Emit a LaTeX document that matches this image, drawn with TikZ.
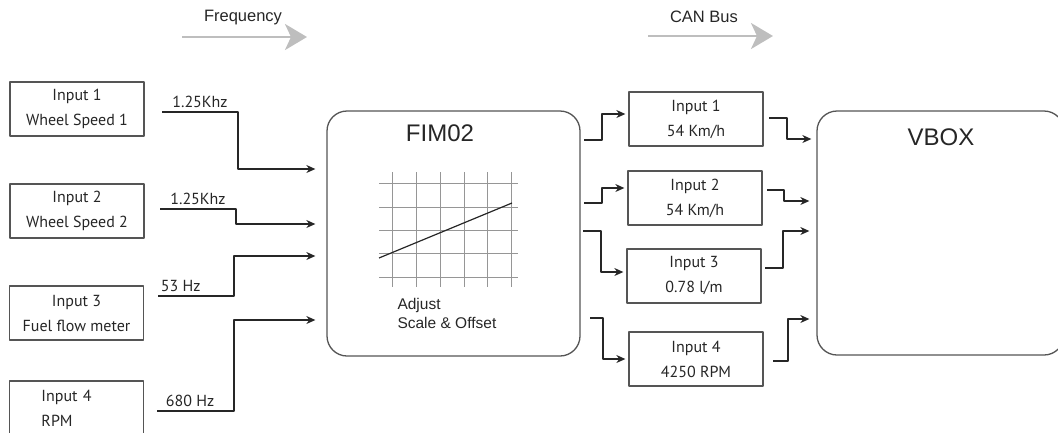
\documentclass[tikz,border=0pt]{standalone}
\usepackage{fontspec}
\setmainfont{Liberation Sans}
\newfontfamily\boxfont{PT Sans}
\usetikzlibrary{arrows.meta}
\definecolor{boxgray}{RGB}{85,85,85}
\definecolor{busgray}{RGB}{190,190,190}
\definecolor{gridgray}{RGB}{150,150,150}
\begin{document}
\begin{tikzpicture}[x=1pt,y=-1pt,line join=round,>={Stealth[length=9pt,width=8pt]},
	inbox/.style={draw=boxgray,line width=1.3pt,minimum width=134pt,minimum height=54pt,inner sep=0pt,align=center,font=\boxfont\fontsize{16}{25}\selectfont},
	bigbox/.style={draw=boxgray,line width=1.3pt,rounded corners=20pt,inner sep=0pt},
	sig/.style={->,line width=1.2pt,color=black!85},
	lbl/.style={font=\boxfont\fontsize{16}{18}\selectfont,inner sep=4pt},
	bus/.style={line width=2.6pt,color=busgray,-{Stealth[length=22pt,width=26pt,inset=6pt]}}]
	\useasboundingbox (0,0) rectangle (1058,432);
	\tikzset{every node/.style={text=black!85}}
	% header arrows
	\node[font=\fontsize{16.5}{18}\selectfont] (freq) at (243,18) {Frequency};
	\node[font=\fontsize{16.5}{18}\selectfont] (can) at (704,17) {CAN Bus};
	\coordinate (fa) at (182,37);
	\coordinate (ca) at (648,36);
	\draw[bus] (fa) -- ++(125,0);
	\draw[bus] (ca) -- ++(125,0);
	% sensor inputs
	\node[inbox] (in1) at (77,109) {Input 1\\Wheel Speed 1};
	\node[inbox] (in2) at (77,211) {Input 2\\Wheel Speed 2};
	\node[inbox] (in3) at (76.5,313) {Input 3\\Fuel flow meter};
	\node[inbox,align=left,text width=70pt,inner xsep=32pt] (in4) at (76.5,408) {Input 4\\RPM};
	% FIM02
	\node[bigbox,minimum width=253pt,minimum height=245pt] (fim) at (453.5,233.5) {};
	\node[font=\fontsize{24}{28}\selectfont] (fimt) at (440,133) {FIM02};
	\foreach \x in {392,416,440,464,487,511}
	\draw[gridgray,line width=0.7pt] (\x,172)--(\x,287);
	\foreach \y in {183,207,230,253,277}
	\draw[gridgray,line width=0.7pt] (379,\y)--(518,\y);
	\draw[line width=1.2pt,black!85] (379,258)--(512,203);
	\node[font=\fontsize{15.5}{19}\selectfont,align=left,anchor=north west] (adj) at (394,295) {Adjust\\Scale \& Offset};
	% CAN outputs
	\node[inbox] (o1) at (696,119) {Input 1\\54 Km/h};
	\node[inbox] (o2) at (695,198) {Input 2\\54 Km/h};
	\node[inbox] (o3) at (694,276) {Input 3\\0.78 l/m};
	\node[inbox] (o4) at (696,359) {Input 4\\4250 RPM};
	% VBOX
	\node[bigbox,minimum width=247pt,minimum height=244pt] (vbox) at (940.5,233) {};
	\node[font=\fontsize{24}{28}\selectfont] (vboxt) at (941,137) {VBOX};
	% frequency signals
	\coordinate (f1) at (162,112);
	\coordinate (f2) at (160,209);
	\coordinate (f3) at (158,296);
	\coordinate (f4) at (157,411);
	\draw[sig,shorten >=11pt] (f1) -- node[lbl,above] (l1) {1.25Khz} ++(76,0) |- (fim.west |- 0,169);
	\draw[sig,shorten >=11pt] (f2) -- node[lbl,above] (l2) {1.25Khz} ++(76,0) |- (fim.west |- 0,224);
	\draw[sig,shorten >=11pt] (f3) -- node[lbl,above,pos=0.3] (l3) {53 Hz} ++(76,0) |- (fim.west |- 0,256);
	\draw[sig,shorten >=11pt] (f4) -- node[lbl,above,pos=0.43] (l4) {680 Hz} ++(77,0) |- (fim.west |- 0,320);
	% CAN messages
	\coordinate (m1) at (584,140);
	\coordinate (m2) at (584,203);
	\coordinate (m3) at (583,231);
	\coordinate (m4) at (590,318);
	\draw[sig,shorten >=3pt] (m1) -- ++(18,0) |- (o1.west |- 0,114);
	\draw[sig,shorten >=3pt] (m2) -- ++(18,0) |- (o2.west |- 0,188);
	\draw[sig,shorten >=3pt] (m3) -- ++(18,0) |- (o3.west |- 0,272);
	\draw[sig,shorten >=3pt] (m4) -- ++(13,0) |- (o4.west |- 0,359);
	% into VBOX
	\coordinate (v1) at (769,118);
	\coordinate (v2) at (767,190);
	\coordinate (v3) at (765,268);
	\coordinate (v4) at (773,361);
	\draw[sig,shorten >=5pt] (v1) -- ++(18,0) |- (vbox.west |- 0,139);
	\draw[sig,shorten >=7pt] (v2) -- ++(17,0) |- (vbox.west |- 0,201);
	\draw[sig,shorten >=7pt] (v3) -- ++(18,0) |- (vbox.west |- 0,231);
	\draw[sig,shorten >=7pt] (v4) -- ++(15,0) |- (vbox.west |- 0,319);
\end{tikzpicture}
\end{document}
